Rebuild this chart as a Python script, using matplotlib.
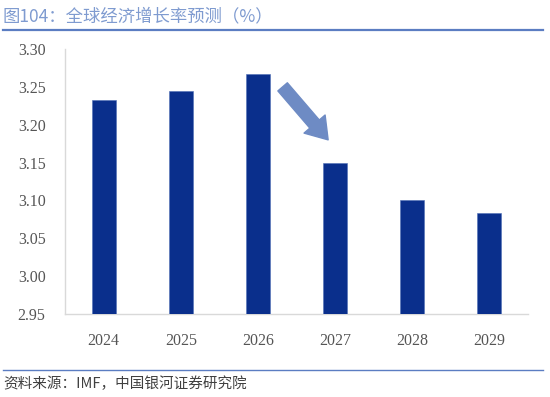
import matplotlib
matplotlib.use("Agg")
import matplotlib.pyplot as plt
from matplotlib.lines import Line2D

years = ["2024", "2025", "2026", "2027", "2028", "2029"]
growth = [3.232, 3.245, 3.267, 3.150, 3.100, 3.084]
yticks = [2.95, 3.00, 3.05, 3.10, 3.15, 3.20, 3.25, 3.30]
title = "图104：全球经济增长率预测（%）"
source = "资料来源：IMF，中国银河证券研究院"

cjk = ["Noto Sans CJK SC", "DejaVu Sans"]
num_font = ["Liberation Serif", "DejaVu Serif"]

fig = plt.figure(figsize=(5.5, 3.97), dpi=100)
ax = fig.add_axes([65/550, 1-314/397, (528-65)/550, (314-49)/397])

x = list(range(len(years)))
ax.bar(x, growth, width=0.31, color="#0A2F8C", edgecolor="#4F6FB5", linewidth=0.4, zorder=3)
ax.set_xlim(-0.5, len(years)-0.5)
ax.set_ylim(yticks[0], yticks[-1])
ax.set_yticks(yticks)
ax.set_yticklabels([f"{v:.2f}" for v in yticks], fontfamily=num_font, fontsize=11.5, color="#555555")
ax.set_xticks(x)
ax.set_xticklabels(years, fontfamily=num_font, fontsize=11.5, color="#555555")
ax.tick_params(axis="y", length=0, pad=14)
ax.tick_params(axis="x", length=0, pad=14)
for s in ["top", "right"]:
    ax.spines[s].set_visible(False)
ax.spines["left"].set_color("#D9D9D9")
ax.spines["bottom"].set_color("#D9D9D9")
ax.spines["left"].set_linewidth(1.0)
ax.spines["bottom"].set_linewidth(1.0)

# downward trend arrow
ax.annotate("", xy=(2.91, 3.180), xytext=(2.32, 3.250),
            arrowprops=dict(arrowstyle="simple,head_width=1.0,head_length=0.75,tail_width=0.45",
                            mutation_scale=20, color="#6E8BC4", shrinkA=0, shrinkB=0),
            zorder=4)

# title and top rule
fig.text(3/550, 1-16/397, title, fontfamily=cjk, fontsize=12.5, color="#7F9BD0", va="center", ha="left")
fig.add_artist(Line2D([3/550, 543/550], [1-30/397, 1-30/397], color="#5B7DC2", linewidth=1.6))

# source and bottom rule
fig.add_artist(Line2D([3/550, 543/550], [1-370/397, 1-370/397], color="#5B7DC2", linewidth=1.0))
fig.text(3/550, 1-384/397, source, fontfamily=cjk, fontsize=10.5, color="#404040",
         va="center", ha="left", style="italic")

fig.savefig("out.png", dpi=100)
